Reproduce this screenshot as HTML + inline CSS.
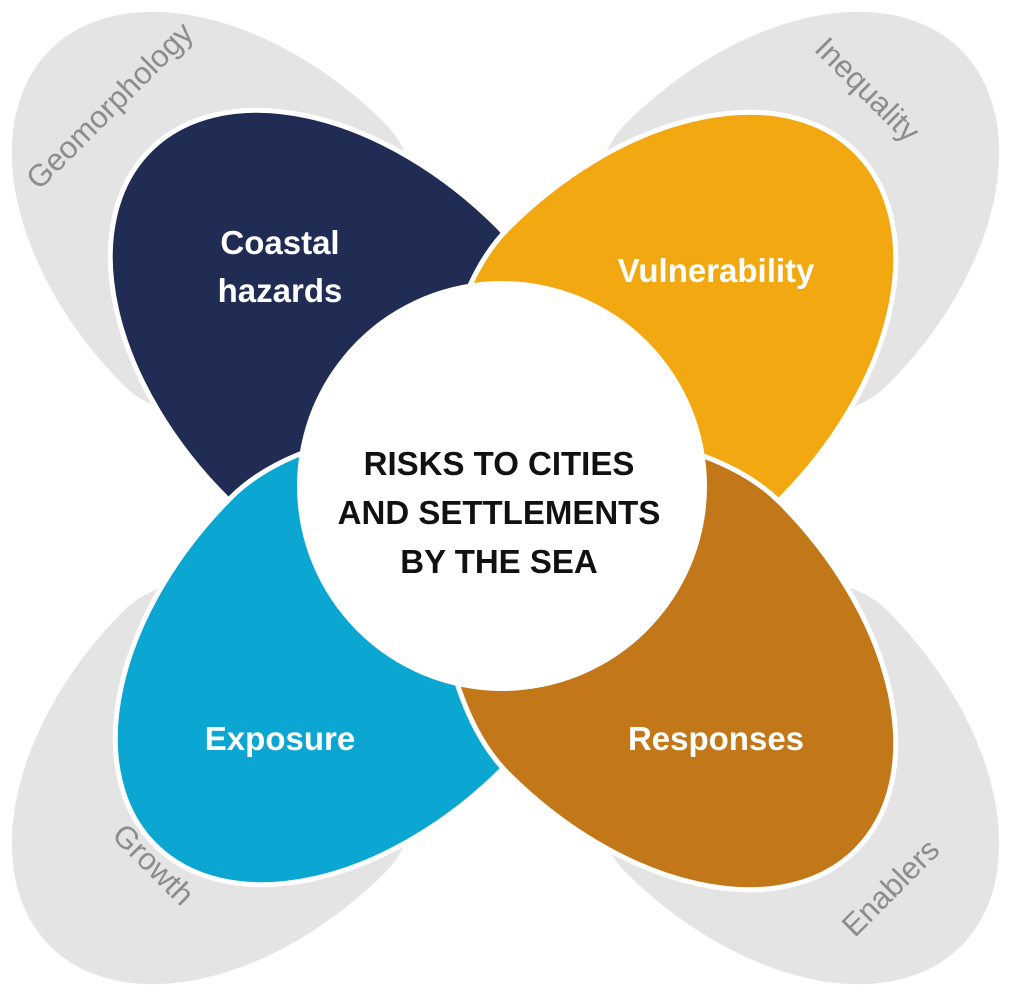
<!DOCTYPE html>
<html><head><meta charset="utf-8"><style>
html,body{margin:0;padding:0;background:#fff;width:1011px;height:996px;overflow:hidden;}
svg{display:block;}
</style></head><body>
<svg width="1011" height="996" viewBox="0 0 1011 996" xmlns="http://www.w3.org/2000/svg">
<defs>
<path id="p" d="M 0,0 A 300 192 0 0 1 300,-192 C 400,-192 520,-90 580,0 C 520,90 400,192 300,192 A 300 192 0 0 1 0,0 Z"/>
<path id="q" d="M 0,0 A 290 185 0 0 1 290,-185 C 360,-185 440,-90 480,0 C 440,90 360,185 290,185 A 290 185 0 0 1 0,0 Z"/>
</defs>
<g fill="#e4e4e4">
<use href="#q" transform="translate(50,50) rotate(45)"/>
<use href="#q" transform="translate(961,50) rotate(135)"/>
<use href="#q" transform="translate(50,946) rotate(-45)"/>
<use href="#q" transform="translate(961,946) rotate(225)"/>
</g>
<g stroke="#fff" stroke-width="5">
<use href="#p" fill="#202c54" transform="translate(150,150) rotate(45)"/>
<use href="#p" fill="#f2a810" transform="translate(856,152) rotate(135)"/>
<use href="#p" fill="#0ba6d2" transform="translate(155,845) rotate(-45)"/>
<use href="#p" fill="#c27718" transform="translate(856,850) rotate(225)"/>
</g>
<circle cx="502" cy="486" r="205" fill="#fff"/>
<g font-family="Liberation Sans, sans-serif" font-size="31" fill="#8c8c8c">
<text transform="translate(117,113) rotate(-45)" text-anchor="middle">Geomorphology</text>
<text transform="translate(860,97) rotate(45)" text-anchor="middle">Inequality</text>
<text transform="translate(146,872) rotate(45)" text-anchor="middle">Growth</text>
<text transform="translate(898,895) rotate(-45)" text-anchor="middle">Enablers</text>
</g>
<g font-family="Liberation Sans, sans-serif" font-size="33" font-weight="bold" fill="#fff" text-anchor="middle">
<text x="280" y="254">Coastal</text>
<text x="280" y="302">hazards</text>
<text x="716" y="282">Vulnerability</text>
<text x="280" y="750">Exposure</text>
<text x="716" y="750">Responses</text>
</g>
<g font-family="Liberation Sans, sans-serif" font-size="33" font-weight="bold" fill="#111" text-anchor="middle">
<text x="499" y="475">RISKS TO CITIES</text>
<text x="499" y="524">AND SETTLEMENTS</text>
<text x="499" y="573">BY THE SEA</text>
</g>
</svg>
</body></html>
